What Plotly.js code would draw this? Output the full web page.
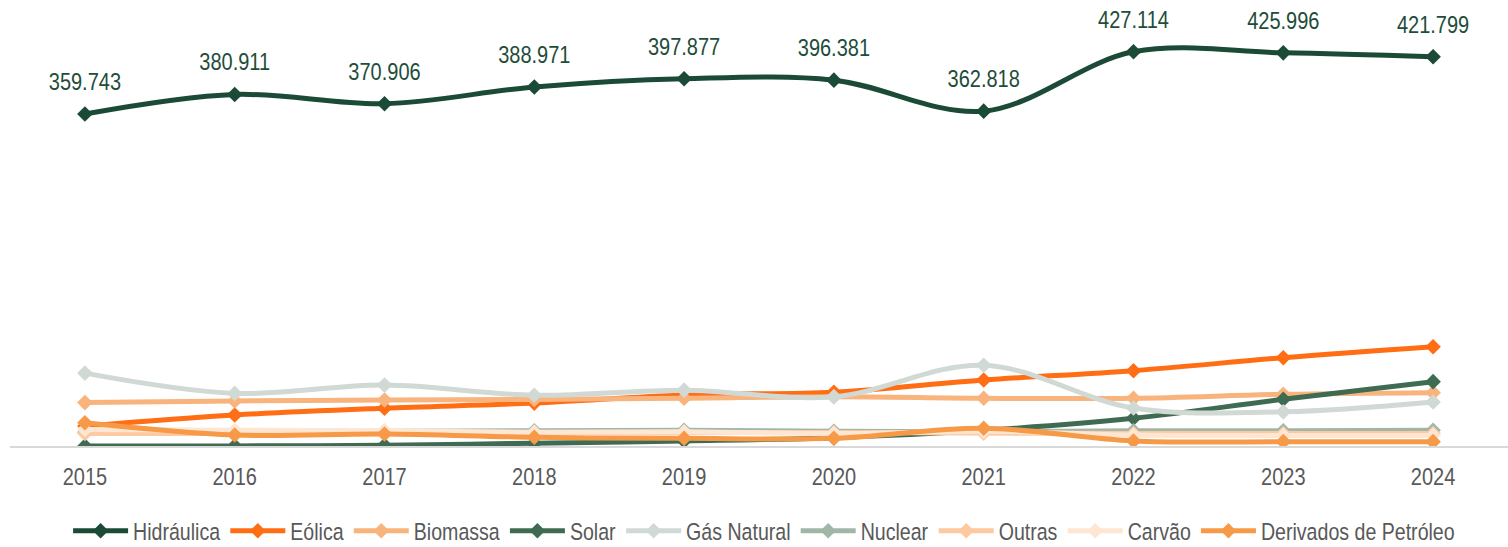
<!DOCTYPE html>
<html>
<head>
<meta charset="utf-8">
<script src="https://cdn.plot.ly/plotly-3.0.1.min.js"></script>
<style>
  html, body { margin: 0; padding: 0; background: #ffffff; }
  #chart { width: 1508px; height: 547px; }
</style>
</head>
<body>
<div id="chart"></div>
<script>
// Geração elétrica por fonte (GWh)
const years = ['2015', '2016', '2017', '2018', '2019', '2020', '2021', '2022', '2023', '2024'];

const hidraulica = [359743, 380911, 370906, 388971, 397877, 396381, 362818, 427114, 425996, 421799];
const eolica     = [21600, 33600, 41000, 46500, 55300, 58300, 71500, 81600, 95700, 107600];
const biomassa   = [47000, 48800, 49800, 50500, 51700, 53400, 51700, 51700, 56000, 57800];
const solar      = [60, 100, 800, 3000, 5500, 9000, 17000, 30000, 50600, 69700];
const gasNatural = [79000, 57000, 66000, 55000, 60500, 53400, 87500, 41200, 37000, 47700];
const nuclear    = [15000, 16000, 16000, 16500, 17000, 16000, 15500, 16500, 16500, 17000];
const outras     = [13500, 13500, 13500, 14000, 14500, 14500, 14000, 13500, 13500, 13500];
const carvao     = [18000, 17000, 16500, 15000, 15500, 13500, 16000, 12000, 11500, 11500];
const derivados  = [25200, 11900, 13000, 9400, 8300, 8300, 19200, 5400, 4700, 4700];

const seriesNames  = ['Hidráulica', 'Eólica', 'Biomassa', 'Solar', 'Gás Natural', 'Nuclear', 'Outras', 'Carvão', 'Derivados de Petróleo'];
const seriesValues = [hidraulica, eolica, biomassa, solar, gasNatural, nuclear, outras, carvao, derivados];
const seriesColors = ['#1b4a36', '#ff6d14', '#f8b47c', '#3f6b53', '#d0d9d3', '#a0b7a8', '#fdc9a0', '#fee6d2', '#f69a48'];

const FONT = '"Liberation Sans", Arial, sans-serif';
const FS = 20;
const STRETCH = 1.2;

const traces = seriesNames.map((name, i) => ({
  type: 'scatter',
  mode: 'lines+markers',
  name: name,
  x: years,
  y: seriesValues[i],
  line: { color: seriesColors[i], width: 5, shape: 'spline', smoothing: 1 },
  marker: { symbol: 'diamond', size: 12, color: seriesColors[i] },
  hoverinfo: 'skip'
}));

// data labels of Hidráulica (transparent marker used only to space the label above the point)
traces.push({
  type: 'scatter',
  mode: 'markers+text',
  x: years,
  y: hidraulica,
  texttemplate: '%{y:,.0f}',
  textposition: 'top center',
  textfont: { family: FONT, size: FS, color: '#1e4d39' },
  marker: { size: 31, color: 'rgba(0,0,0,0)' },
  showlegend: false,
  hoverinfo: 'skip',
  cliponaxis: false
});

const layout = {
  width: 1508,
  height: 547,
  margin: { l: 10, r: 0, t: 3, b: 101 },
  paper_bgcolor: '#ffffff',
  plot_bgcolor: '#ffffff',
  showlegend: true,
  separators: ',.',
  xaxis: {
    type: 'category',
    range: [-0.5, 9.5],
    showgrid: false,
    zeroline: false,
    showline: true,
    linecolor: '#d9d9d9',
    linewidth: 2,
    ticks: 'outside',
    ticklen: 12,
    tickcolor: 'rgba(0,0,0,0)',
    tickfont: { family: FONT, size: FS, color: '#595959' }
  },
  yaxis: {
    range: [0, 480000],
    showgrid: false,
    zeroline: false,
    showline: false,
    showticklabels: false,
    ticks: ''
  },
  legend: {
    orientation: 'h',
    x: 0.5034,
    xanchor: 'center',
    yref: 'container',
    y: 1 - 531 / 547,
    yanchor: 'middle',
    font: { family: FONT, size: 19.6, color: '#595959' },
    itemwidth: 55,
    tracegroupgap: 0,
    bgcolor: 'rgba(0,0,0,0)'
  }
};

// The reference uses a narrow typeface; emulate it by stretching the text vertically.
function stretchText(el, s) {
  const b = el.getBBox();
  if (!b.height) return;
  const cy = b.y + b.height / 2;
  const prev = el.getAttribute('transform') || '';
  el.setAttribute('transform', (prev + ' translate(0,' + cy + ') scale(1,' + s + ') translate(0,' + (-cy) + ')').trim());
}

Plotly.newPlot('chart', traces, layout, { displayModeBar: false, staticPlot: true }).then(gd => {
  gd.querySelectorAll('.xtick text, .legendtext, .textpoint text').forEach(el => stretchText(el, STRETCH));
});
</script>
</body>
</html>
